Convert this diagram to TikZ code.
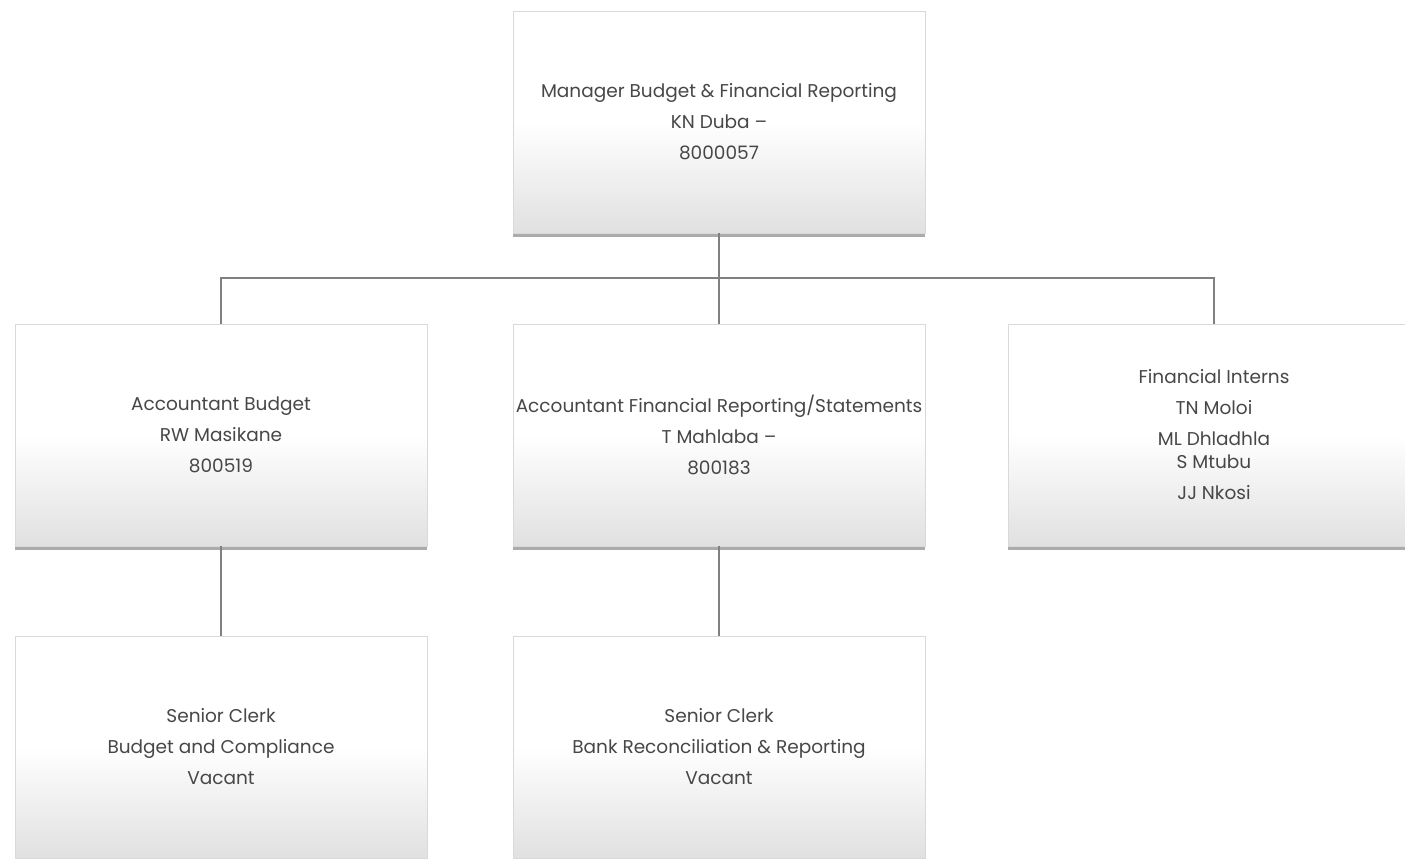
\documentclass[tikz,border=0pt]{standalone}
\usepackage{fontspec}
\setmainfont{Poppins}
\usetikzlibrary{shadows,calc}
\tikzset{
  orgbox/.style={
    rectangle, minimum width=412pt, minimum height=222pt, inner sep=0pt,
    align=center, text=black!72,
    font=\fontsize{18.5}{31}\selectfont,
    top color=white, bottom color=black!12, middle color=white,
    draw=black!15, line width=0.6pt,
    drop shadow={shadow xshift=0pt, shadow yshift=-4pt, opacity=0.6, fill=black!55}
  },
  conn/.style={draw=black!50, line width=1.4pt}
}
\begin{document}
\begin{tikzpicture}[x=1pt,y=-1pt]
  \fill[white] (0,0) rectangle (1405,859);
  \useasboundingbox (0,0) rectangle (1405,859);

  % top level
  \node[orgbox] (mgr) at (719,122) {Manager Budget \& Financial Reporting\\KN Duba --\\8000057};

  % second level
  \node[orgbox] (acb) at (221,435) {Accountant Budget\\RW Masikane\\800519};
  \node[orgbox] (acf) at (719,435) {Accountant Financial Reporting/Statements\\T Mahlaba --\\800183};
  \node[orgbox] (int) at (1214,435) {Financial Interns\\TN Moloi\\ML Dhladhla\\[-8pt]S Mtubu\\JJ Nkosi};

  % third level
  \node[orgbox] (scb) at (221,747) {Senior Clerk\\Budget and Compliance\\Vacant};
  \node[orgbox] (scr) at (719,747) {Senior Clerk\\Bank Reconciliation \& Reporting\\Vacant};

  % connectors
  \coordinate (bus) at (719,278);
  \draw[conn] (mgr.south) -- (mgr.south |- bus);
  \draw[conn] (acb.north) -- (acb.north |- bus) -- (int.north |- bus) -- (int.north);
  \draw[conn] (acf.north |- bus) -- (acf.north);
  \draw[conn] (acb.south) -- (scb.north);
  \draw[conn] (acf.south) -- (scr.north);
\end{tikzpicture}
\end{document}
